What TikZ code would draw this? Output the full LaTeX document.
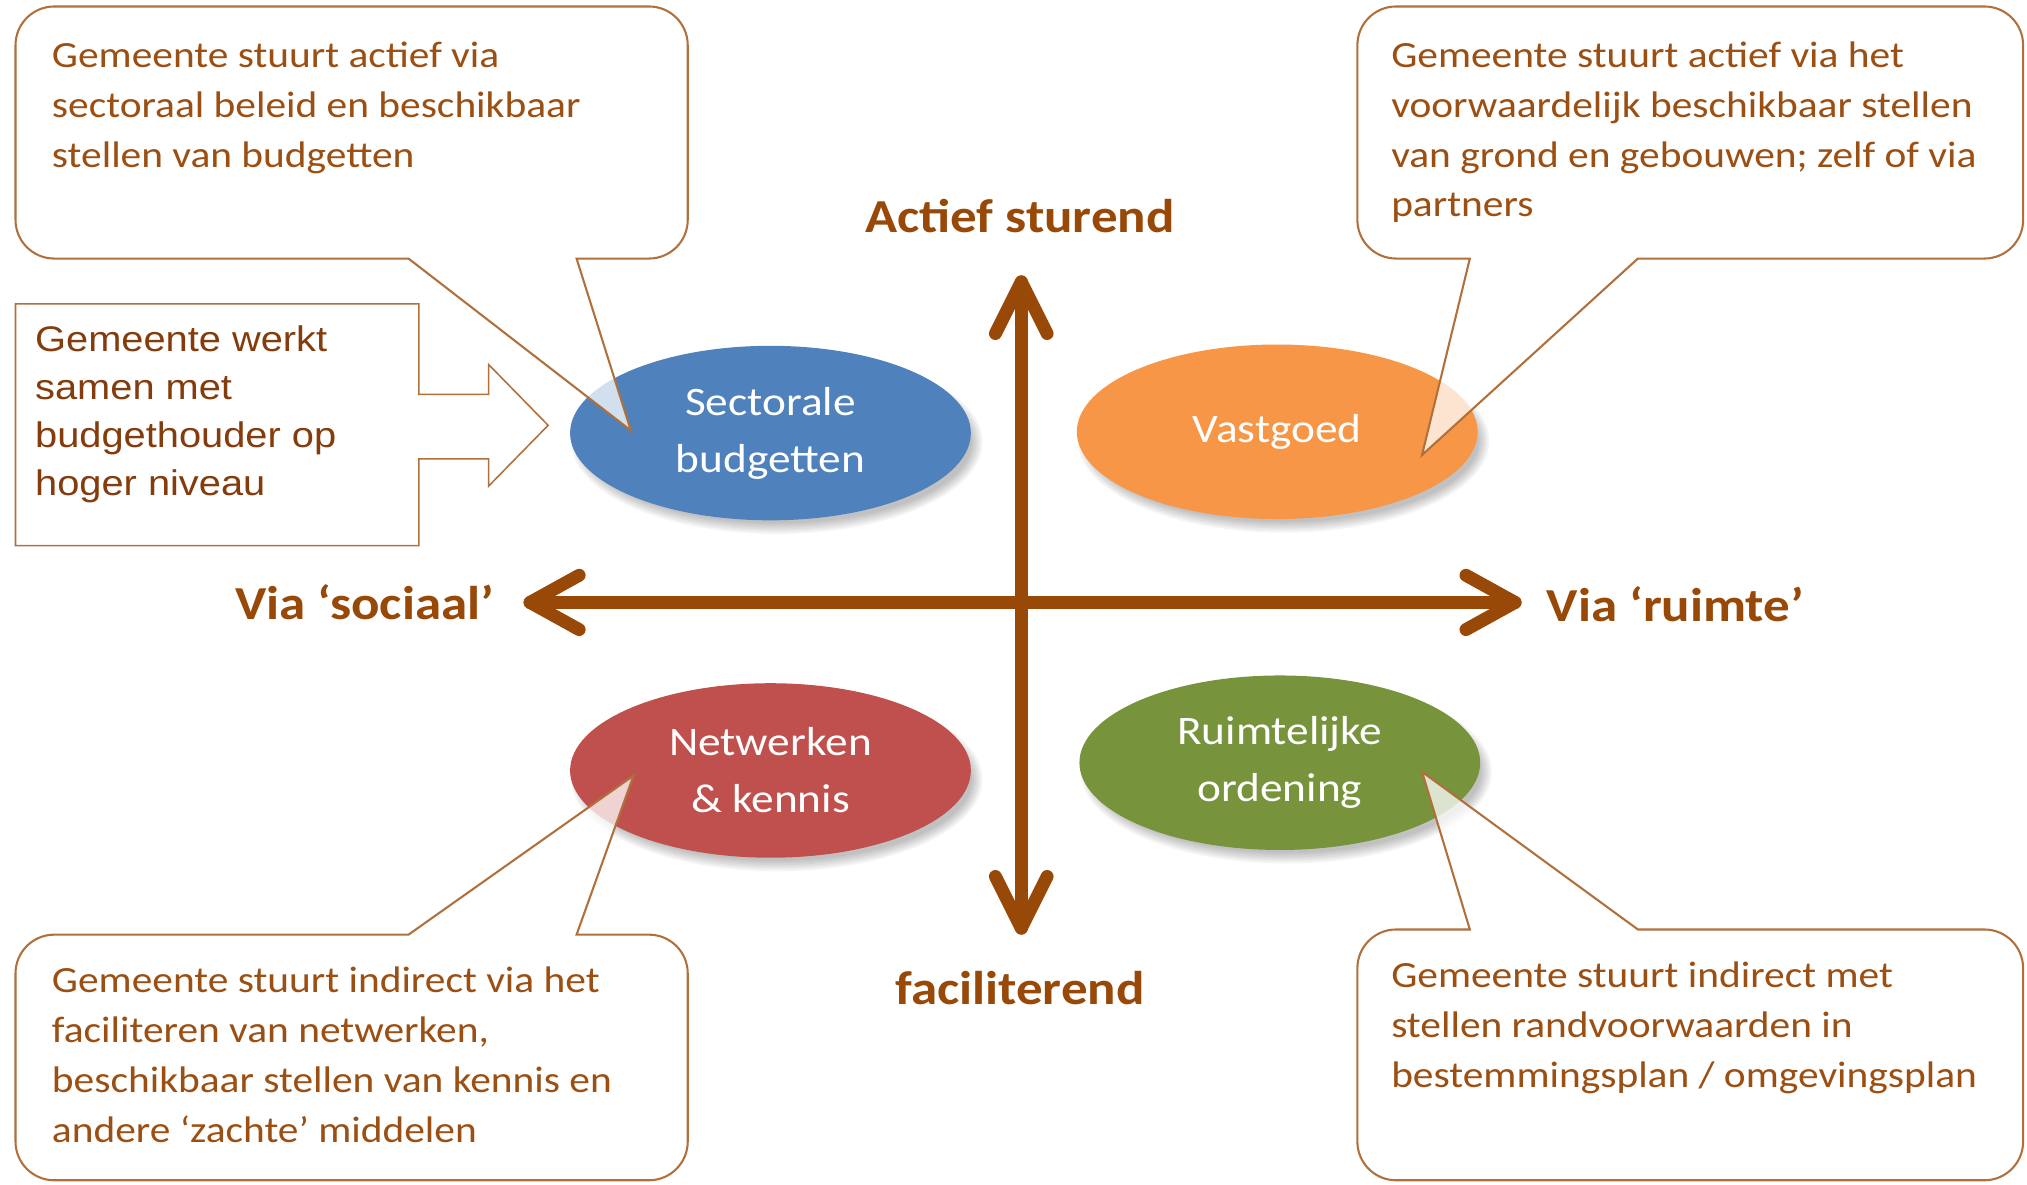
\documentclass[tikz,border=0pt]{standalone}
\usepackage{fontspec}
\setmainfont{Carlito}
\newfontfamily\calfont[FakeStretch=1.12]{Carlito}
\newfontfamily\arfont[FakeStretch=1.12]{Liberation Sans}
\usetikzlibrary{shapes.geometric}
\definecolor{axisbrown}{HTML}{984807}
\definecolor{calltext}{HTML}{9C4F12}
\definecolor{callline}{HTML}{B0703C}
\definecolor{boxtext}{HTML}{843C0C}
\definecolor{eblue}{HTML}{4F81BD}
\definecolor{eorange}{HTML}{F79646}
\definecolor{ered}{HTML}{C0504D}
\definecolor{egreen}{HTML}{77933C}
\tikzset{
  callout/.style={draw=callline, line width=1.6pt, fill=white, fill opacity=0.75, line join=miter},
  ctext/.style={anchor=base west, inner sep=0, text=calltext, font=\calfont\fontsize{28.6}{38.6}\selectfont},
  bubble/.style={ellipse, minimum width=310pt, minimum height=135pt, inner sep=0, text=white, align=center, font=\calfont\fontsize{31.3}{44}\selectfont},
  axisline/.style={draw=axisbrown, line width=10pt, line cap=round, line join=round},
  alabel/.style={text=axisbrown, inner sep=0, font=\calfont\bfseries\fontsize{36.6}{44}\selectfont},
}
% pointer on the bottom edge
\newcommand\callD[8]{%
\draw[callout] (#5,#4) -- (#7,#8) -- (#6,#4) -- ({#3-30},#4) .. controls ({#3-13.4},#4) and (#3,{#4-13.4}) .. (#3,{#4-30}) -- (#3,{#2+30}) .. controls (#3,{#2+13.4}) and ({#3-13.4},#2) .. ({#3-30},#2) -- ({#1+30},#2) .. controls ({#1+13.4},#2) and (#1,{#2+13.4}) .. (#1,{#2+30}) -- (#1,{#4-30}) .. controls (#1,{#4-13.4}) and ({#1+13.4},#4) .. ({#1+30},#4) -- cycle;}
% pointer on the top edge
\newcommand\callU[8]{%
\draw[callout] (#5,#2) -- (#7,#8) -- (#6,#2) -- ({#3-30},#2) .. controls ({#3-13.4},#2) and (#3,{#2+13.4}) .. (#3,{#2+30}) -- (#3,{#4-30}) .. controls (#3,{#4-13.4}) and ({#3-13.4},#4) .. ({#3-30},#4) -- ({#1+30},#4) .. controls ({#1+13.4},#4) and (#1,{#4-13.4}) .. (#1,{#4-30}) -- (#1,{#2+30}) .. controls (#1,{#2+13.4}) and ({#1+13.4},#2) .. ({#1+30},#2) -- cycle;}
\newcommand\eshadow[2]{\foreach \k in {0,...,5}{\fill[black,opacity=0.045] ({#1+5},{#2+7}) ellipse ({151+\k*1.6} and {63+\k*1.6});}}
\begin{document}
\begin{tikzpicture}[x=1pt,y=-1pt]
\useasboundingbox (0,0) rectangle (1568,916);
\fill[white] (0,0) rectangle (1568,916);

% ellipses
\eshadow{596}{335}
\eshadow{988}{334}
\eshadow{596}{596}
\eshadow{990}{590}
\node[bubble, fill=eblue] (sb) at (596,335) {Sectorale\\budgetten};
\node[bubble, fill=eorange] (vg) at (988,334) {Vastgoed};
\node[bubble, fill=ered] (nk) at (596,596) {Netwerken\\\& kennis};
\node[bubble, fill=egreen] (ro) at (990,590) {Ruimtelijke\\ordening};

% axes
\coordinate (L) at (410,466);
\coordinate (R) at (1172,466);
\coordinate (T) at (790,218);
\coordinate (B) at (790,718);
\draw[axisline] (L) -- (R);
\draw[axisline] (T) -- (B);
\draw[axisline] ([shift={(38,-21)}]L) -- (L) -- ([shift={(38,21)}]L);
\draw[axisline] ([shift={(-38,-21)}]R) -- (R) -- ([shift={(-38,21)}]R);
\draw[axisline] ([shift={(-20,40)}]T) -- (T) -- ([shift={(20,40)}]T);
\draw[axisline] ([shift={(-20,-40)}]B) -- (B) -- ([shift={(20,-40)}]B);

\node[alabel] (act) at (789,167) {Actief sturend};
\node[alabel] (fac) at (789,764) {faciliterend};
\node[alabel] (soc) at (282,466) {Via ‘sociaal’};
\node[alabel] (ruim) at (1296,467) {Via ‘ruimte’};

% callouts
\callD{12}{5}{532}{200}{316}{446}{488}{333}
\callD{1050}{5}{1565}{200}{1137}{1267}{1100}{352}
\callU{12}{723}{532}{913}{316}{446}{490}{600}
\callU{1050}{719}{1565}{913}{1137}{1267}{1100}{597}

\node[ctext] (c1) at (40,52) {\parbox[t]{480pt}{\raggedright Gemeente stuurt actief via\\sectoraal beleid en beschikbaar\\stellen van budgetten}};
\node[ctext] (c2) at (1076,52) {\parbox[t]{485pt}{\raggedright Gemeente stuurt actief via het\\voorwaardelijk beschikbaar stellen\\van grond en gebouwen; zelf of via\\partners}};
\node[ctext] (c3) at (40,768) {\parbox[t]{480pt}{\raggedright Gemeente stuurt indirect via het\\faciliteren van netwerken,\\beschikbaar stellen van kennis en\\andere ‘zachte’ middelen}};
\node[ctext] (c4) at (1076,764) {\parbox[t]{485pt}{\raggedright Gemeente stuurt indirect met\\stellen randvoorwaarden in\\bestemmingsplan / omgevingsplan}};

% left arrow box
\draw[draw=callline, line width=1.2pt, fill=white] (12,235) -- (324,235) -- (324,305) -- (378,305) -- (378,282) -- (424,329) -- (378,376) -- (378,355) -- (324,355) -- (324,422) -- (12,422) -- cycle;
\node[anchor=base west, inner sep=0, text=boxtext, font=\arfont\fontsize{27.5}{37}\selectfont] (lb) at (27,272) {\parbox[t]{300pt}{\raggedright Gemeente werkt\\samen met\\budgethouder op\\hoger niveau}};
\end{tikzpicture}
\end{document}
